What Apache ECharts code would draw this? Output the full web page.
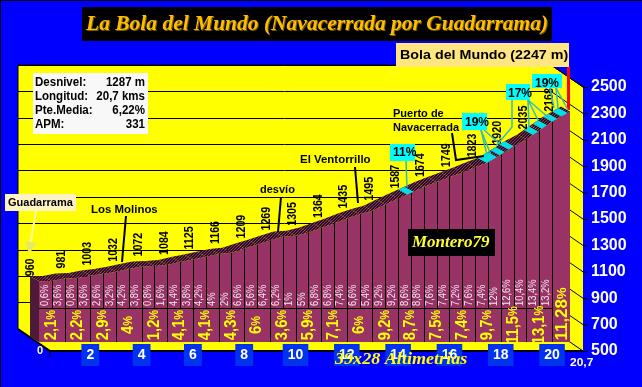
<!DOCTYPE html>
<html><head><meta charset="utf-8">
<style>html,body{margin:0;padding:0;background:#00f}#c{width:642px;height:387px}</style>
<script src="https://cdn.jsdelivr.net/npm/echarts@6/dist/echarts.min.js"></script>
</head><body><div id="c"></div>
<script>
// ---- data ----
const halfKm = [0,0.5,1,1.5,2,2.5,3,3.5,4,4.5,5,5.5,6,6.5,7,7.5,8,8.5,9,9.5,10,10.5,11,11.5,12,12.5,13,13.5,14,14.5,15,15.5,16,16.5,17,17.5,18,18.5,19,19.5,20,20.7];
const elevation = [960,963,981,985,1003,1016,1032,1053,1072,1076,1084,1106,1125,1146,1166,1176,1209,1237,1269,1300,1305,1330,1364,1398,1435,1468,1495,1541,1587,1630,1674,1712,1749,1785,1823,1860,1920,1983,2035,2102,2168,2247];
const halfKmPct = ['0,6','3,6','0,8','3,6','2,6','3,2','4,2','3,8','0,8','1,6','4,4','3,8','4,2','4','2','6,6','5,6','6,4','6,2','1','5','6,8','6,8','7,4','6,6','5,4','9,2','9,2','8,6','8,8','7,6','7,4','7,2','7,6','7,4','12','12,6','10,4','13,4','13,2'];
const kmPct = ['2,1','2,2','2,9','4','1,2','4,1','4,1','4,3','6','3,6','5,9','7,1','6','9,2','8,7','7,5','7,4','9,7','11,5','13,1'];
const lastPct = '11,28';
const steepStrips = [[14.35,14.6],[17.45,17.85],[17.95,18.15],[18.3,18.5],[19.25,19.45],[19.6,19.8],[20,20.2],[20.35,20.6]];
const yTicks = [500,700,900,1100,1300,1500,1700,1900,2100,2300,2500];
const titleText = 'La Bola del Mundo (Navacerrada por Guadarrama)';
const statNames = ['Desnivel:','Longitud:','Pte.Media:','APM:'];
const statValues = ['1287 m','20,7 kms','6,22%','331'];

// ---- helpers ----
function elevAt(km){
  for(let i=1;i<halfKm.length;i++){
    if(km<=halfKm[i]){
      const t=(km-halfKm[i-1])/(halfKm[i]-halfKm[i-1]);
      return elevation[i-1]+t*(elevation[i]-elevation[i-1]);
    }
  }
  return elevation[elevation.length-1];
}
const pc=document.createElement('canvas');pc.width=3;pc.height=3;
(function(){const x=pc.getContext('2d');x.fillStyle='#2a0f20';x.fillRect(0,0,3,3);x.fillStyle='#8a3a62';
  [[0,0],[2,1],[1,2]].forEach(p=>x.fillRect(p[0],p[1],1,1));})();
const hatch={image:pc,repeat:'repeat'};
const DX=-9,DY=-5;         // depth of the solid
const MID=308, BASE=342;   // pixel rows of the two bands
const SANS='"Liberation Sans",Arial,sans-serif', SERIF='"Liberation Serif",serif';
const km=halfKm.filter(k=>Number.isInteger(k));
const kmElev=km.map(k=>elevation[halfKm.indexOf(k)]);

const txt=(text,x,y,font,fill,extra,sx)=>({type:'text',z:100,x,y,scaleX:sx||1,style:Object.assign({text,font,fill,align:'left',verticalAlign:'middle'},extra||{})});
const rect=(x,y,w,h,fill)=>({type:'rect',z:99,shape:{x,y,width:w,height:h},style:{fill}});
const line=(pts,stroke,w)=>({type:'polyline',z:98,shape:{points:pts},style:{stroke,lineWidth:w,fill:null}});
const F='bold 12px '+SANS, F11='bold 11px '+SANS;
const graphics=[
  line([[0.5,387],[0.5,0.5],[642,0.5]],'#000',1),
  rect(82,7,470,34,'#000'),
  txt(titleText,87,25,'italic bold 22px '+SERIF,'#7a5a00',null,0.977),
  txt(titleText,86,24,'italic bold 22px '+SERIF,'#ffbe00',null,0.977),
  rect(33,73,115,61,'#f8f8f8'),
  rect(396,43,173,24,'#ffe680'),
  txt('Bola del Mundo (2247 m)',400,55.5,F,'#000',null,1.19),
  rect(5,194,71,17,'#fff2c4'),
  txt('Guadarrama',8,203,F11,'#000'),
  line([[36,211],[30,246]],'#ffff99',2),
  {type:'polygon',z:98,shape:{points:[[25,241],[37,243],[29,254]]},style:{fill:'#e8e86a'}},
  txt('Los Molinos',91,210,F11,'#000',null,1.04),
  line([[126,216],[122,262]],'#000',2),
  txt('desvío',260,190,F11,'#000'),
  line([[281,197],[278,232]],'#000',2),
  txt('El Ventorrillo',300,160,F11,'#000',null,1.04),
  line([[355,167],[358,203]],'#000',2),
  txt('Puerto de',393,114,F11,'#000'),
  txt('Navacerrada',393,128,F11,'#000'),
  line([[452,133],[456,160],[484,156]],'#000',2),
  // red summit marker
  line([[568.5,67],[568.5,110]],'#ff0000',3),
  // steep gradient callouts
  line([[406,161],[407,187]],'#33bbbb',1.5),
  line([[481,130],[487,155]],'#33bbbb',1.5),
  line([[481,130],[491,155]],'#33bbbb',1.5),
  line([[484,130],[501,145]],'#33bbbb',1.5),
  line([[512,100],[512,127],[496,146]],'#33bbbb',1.5),
  line([[528,100],[529,127]],'#33bbbb',1.5),
  line([[528,100],[538,120]],'#33bbbb',1.5),
  line([[528,100],[549,118]],'#33bbbb',1.5),
  line([[556,88],[558,108]],'#33bbbb',1.5),
  line([[556,88],[568,110]],'#33bbbb',1.5),
  line([[550,88],[554,108]],'#33bbbb',1.5),
  rect(390,144,25,17,'#00ffff'),
  txt('11%',393,153,F,'#000'),
  rect(462,113,25,17,'#00ffff'),
  txt('19%',465,123,F,'#000'),
  rect(506,84,24,16,'#00ffff'),
  txt('17%',508,94,F,'#000'),
  rect(532,74,30,14,'#00ffff'),
  txt('19%',535,84,F,'#000'),
  // signature boxes
  rect(408,229,87,27,'#000'),
  txt('Montero79',412,243,'italic bold 17px '+SERIF,'#ffff33'),
  txt('39x28 Altimetrias',335,360,'italic bold 17px '+SERIF,'#ffff00',null,1.065),
  // axis end labels
  txt('0',37,351,'bold 11px '+SANS,'#fff'),
  txt('20,7',570,363,'bold 10px '+SANS,'#fff',null,1.2),
  line([[50,351],[50,357]],'#000',1),
];
statNames.forEach((s,i)=>{
  graphics.push(txt(s,35,83+i*14,F,'#000',null,0.96));
  graphics.push(txt(statValues[i],145,83+i*14,F,'#000',{align:'right'},0.96));
});

const option={
  animation:false,
  backgroundColor:'#0000ff',
  graphic:graphics,
  grid:[
    {left:18,top:65,width:533,height:264,show:true,backgroundColor:'#ffff00',borderWidth:0},
    {left:50,top:87,width:533,height:264},
    {left:39,top:78,width:531,height:264}
  ],
  xAxis:[
    {gridIndex:0,type:'value',min:0,max:20.7,show:false},
    {gridIndex:1,type:'value',min:0,max:20.7,show:false},
    {gridIndex:2,type:'value',min:0,max:20.7,interval:2,z:5,
      axisLine:{show:false},axisTick:{show:false},splitLine:{show:false},
      axisLabel:{margin:2,showMinLabel:false,showMaxLabel:false,
        color:'#fff',fontFamily:SANS,fontWeight:'bold',fontSize:14,
        backgroundColor:'#0033ee',padding:[4,5,4,5],
        formatter:v=>String(v)}}
  ],
  yAxis:[
    {gridIndex:0,type:'value',min:500,max:2500,interval:200,
      axisLine:{show:false},axisTick:{show:false},axisLabel:{show:false},
      splitLine:{show:true,lineStyle:{color:'#000',width:1}}},
    {gridIndex:1,type:'value',position:'right',min:500,max:2500,interval:200,
      axisLine:{show:false},axisTick:{show:false},
      splitLine:{show:false},
      axisLabel:{margin:8,color:'#fff',fontFamily:SANS,fontWeight:'bold',fontSize:16,formatter:v=>String(v)}},
    {gridIndex:2,type:'value',min:500,max:2500,interval:200,show:false}
  ],
  series:[
    // right wall and floor of the box
    {type:'custom',xAxisIndex:1,yAxisIndex:1,z:1,clip:false,data:[0],silent:true,
      renderItem:(p,api)=>{
        const BX=-32,BY=-22;
        const a=api.coord([0,500]),b=api.coord([20.7,500]),c=api.coord([20.7,2500]);
        const kids=[
          {type:'polygon',shape:{points:[a,b,[b[0]+BX,b[1]+BY],[a[0]+BX,a[1]+BY]]},style:{fill:'#ffff00'}},
          {type:'polygon',shape:{points:[b,c,[c[0]+BX,c[1]+BY],[b[0]+BX,b[1]+BY]]},style:{fill:'#ffff00'}},
          {type:'line',shape:{x1:a[0]+BX,y1:a[1]+BY,x2:a[0],y2:a[1]},style:{stroke:'#000',lineWidth:2}},
          {type:'line',shape:{x1:a[0],y1:a[1],x2:b[0],y2:b[1]},style:{stroke:'#000',lineWidth:2}},
          {type:'line',shape:{x1:c[0]+BX,y1:c[1]+BY,x2:c[0],y2:c[1]},style:{stroke:'#000',lineWidth:1}},
          {type:'line',shape:{x1:c[0]+BX,y1:c[1]+BY,x2:18,y2:c[1]+BY},style:{stroke:'#000',lineWidth:1}},
          {type:'line',shape:{x1:18,y1:c[1]+BY,x2:18,y2:a[1]+BY},style:{stroke:'#000',lineWidth:1}}
        ];
        yTicks.forEach(v=>{const q=api.coord([20.7,v]);
          kids.push({type:'line',shape:{x1:q[0]+BX,y1:q[1]+BY,x2:q[0],y2:q[1]},style:{stroke:'#000',lineWidth:1}});
          kids.push({type:'line',shape:{x1:q[0],y1:q[1]+0.5,x2:q[0]+5,y2:q[1]+0.5},style:{stroke:'#000',lineWidth:1}});});
        return {type:'group',children:kids};
      }},
    // left side of the solid
    {type:'custom',xAxisIndex:2,yAxisIndex:2,z:2,clip:false,data:[0],silent:true,
      renderItem:(p,api)=>{
        const t=api.coord([0,elevation[0]]),b=api.coord([0,500]);
        return {type:'polygon',shape:{points:[t,b,[b[0]+DX,b[1]+DY],[t[0]+DX,t[1]+DY]]},style:{fill:'#4d1a38'}};
      }},
    // profile
    {type:'line',name:'Altitud',xAxisIndex:2,yAxisIndex:2,z:3,symbol:'none',
      data:halfKm.map((k,i)=>[k,elevation[i]]),
      lineStyle:{width:0},areaStyle:{color:'#993366',opacity:1}},
    // hatched top of the solid
    {type:'custom',xAxisIndex:2,yAxisIndex:2,z:4,clip:false,silent:true,
      data:halfKm.slice(1).map((k,i)=>[i]),
      renderItem:(p,api)=>{
        const i=api.value(0);
        const a=api.coord([halfKm[i],elevation[i]]),b=api.coord([halfKm[i+1],elevation[i+1]]);
        return {type:'polygon',shape:{points:[a,b,[b[0]+DX,b[1]+DY],[a[0]+DX,a[1]+DY]]},style:{fill:hatch}};
      }},
    // cyan strips for the steepest stretches
    {type:'custom',xAxisIndex:2,yAxisIndex:2,z:5,clip:false,silent:true,
      data:steepStrips,
      renderItem:(p,api)=>{
        const s=api.value(0),e=api.value(1);
        const a=api.coord([s,elevAt(s)]),b=api.coord([e,elevAt(e)]);
        return {type:'polygon',shape:{points:[a,b,[b[0]+DX,b[1]+DY],[a[0]+DX,a[1]+DY]]},style:{fill:'#00e0e8'}};
      }},
    // dividers
    {type:'custom',xAxisIndex:2,yAxisIndex:2,z:6,clip:false,silent:true,
      data:halfKm.map((k,i)=>[i]),
      renderItem:(p,api)=>{
        const i=api.value(0);
        if(i===0||i===halfKm.length-1) return null;
        const k=halfKm[i],t=api.coord([k,elevation[i]]);
        const whole=Number.isInteger(k);
        const x=Math.round(t[0])+0.5;
        return {type:'line',shape:{x1:x,y1:t[1],x2:x,y2:whole?BASE:MID},style:{stroke:'#000',lineWidth:1}};
      }},
    // middle rule
    {type:'custom',xAxisIndex:2,yAxisIndex:2,z:6,clip:false,silent:true,data:[0],
      renderItem:(p,api)=>{
        const a=api.coord([0,500]),b=api.coord([20,500]);
        return {type:'line',shape:{x1:a[0],y1:MID+0.5,x2:b[0],y2:MID+0.5},style:{stroke:'#000',lineWidth:1}};
      }},
    // half-km gradients
    {type:'custom',xAxisIndex:2,yAxisIndex:2,z:7,clip:false,silent:true,
      data:halfKmPct.map((s,i)=>[i]),
      renderItem:(p,api)=>{
        const i=api.value(0);
        const c=api.coord([i*0.5+0.25,500]);
        return {type:'text',x:c[0],y:MID-2,rotation:Math.PI/2,scaleX:0.85,
          style:{text:halfKmPct[i]+'%',font:'11px '+SANS,fill:'#f4eaf2',align:'left',verticalAlign:'middle'}};
      }},
    // km gradients
    {type:'custom',xAxisIndex:2,yAxisIndex:2,z:7,clip:false,silent:true,
      data:kmPct.map((s,i)=>[i]),
      renderItem:(p,api)=>{
        const i=api.value(0);
        const c=api.coord([i+0.5,500]);
        return {type:'text',x:c[0],y:325,rotation:Math.PI/2,scaleX:0.92,
          style:{text:'{n|'+kmPct[i]+'}{p|%}',align:'center',verticalAlign:'middle',
            rich:{n:{font:'bold 16px '+SANS,fill:'#ffff00',color:'#ffff00'},p:{font:'bold 12px '+SANS,fill:'#ffff00',color:'#ffff00'}}}};
      }},
    {type:'custom',xAxisIndex:2,yAxisIndex:2,z:7,clip:false,silent:true,data:[0],
      renderItem:(p,api)=>{
        const c=api.coord([20.35,500]);
        return {type:'text',x:c[0]+1,y:314,rotation:Math.PI/2,
          style:{text:'{n|'+lastPct+'}{p|%}',align:'center',verticalAlign:'middle',
            rich:{n:{font:'bold 17px '+SANS,fill:'#ffff00',color:'#ffff00'},p:{font:'bold 13px '+SANS,fill:'#ffff00',color:'#ffff00'}}}};
      }},
    // elevations at each km
    {type:'custom',xAxisIndex:2,yAxisIndex:2,z:8,clip:false,silent:true,
      data:km.map((k,i)=>[i]),
      renderItem:(p,api)=>{
        const i=api.value(0);
        const c=api.coord([km[i],kmElev[i]]);
        const x=i===0?30:c[0]-3;
        return {type:'text',x,y:c[1]-(i===0?5:10),rotation:Math.PI/2,scaleX:0.82,
          style:{text:String(kmElev[i]),font:'bold 13px '+SANS,fill:'#000',align:'left',verticalAlign:'middle'}};
      }}
  ]
};
const chart=echarts.init(document.getElementById('c'),null,{renderer:'canvas',width:642,height:387});
chart.setOption(option);
</script></body></html>
